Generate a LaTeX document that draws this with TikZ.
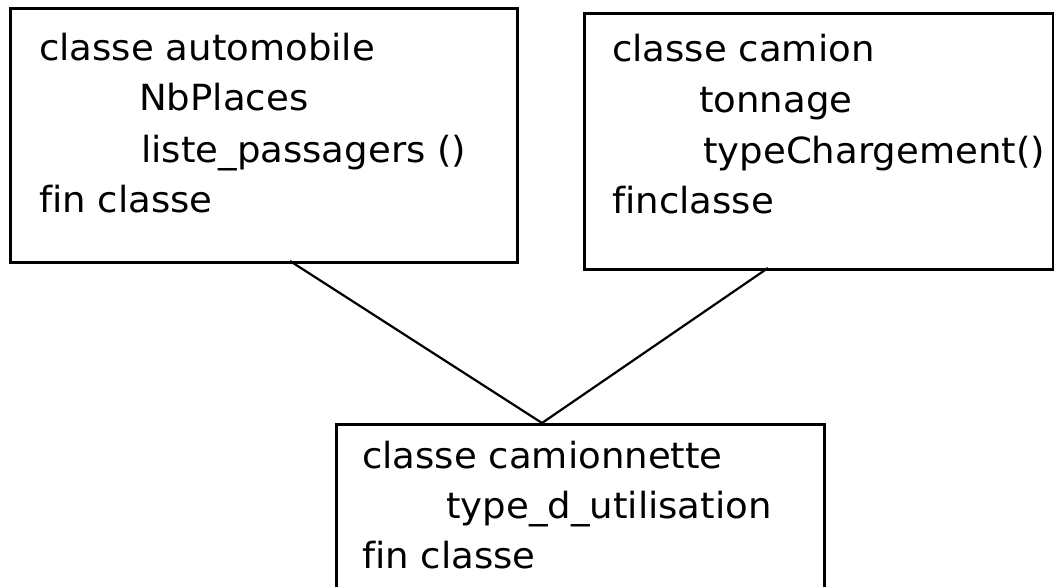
\documentclass[tikz,border=0pt]{standalone}
\usepackage{fontspec}
\setmainfont{DejaVu Sans}[FakeStretch=1.03,Ligatures=NoCommon]
\begin{document}
\begin{tikzpicture}[x=1pt,y=-1pt,
  box/.style={draw,line width=2.7pt,rectangle,inner sep=0pt,anchor=north west},
  txt/.style={anchor=base west,inner sep=0pt,font=\fontsize{36}{42}\selectfont},
  link/.style={line width=2.2pt}]
\useasboundingbox (0,0) rectangle (1054,586);
% boxes
\node[box,minimum width=507pt,minimum height=254pt] (b1) at (9,7) {};
\node[box,minimum width=469pt,minimum height=256pt] (b2) at (583,12) {};
\node[box,minimum width=488pt,minimum height=200pt] (b3) at (335,423) {};
% texts box 1
\node[txt] (t11) at (39,60) {classe automobile};
\node[txt] (t12) at (139,110) {NbPlaces};
\node[txt] (t13) at (141,162) {liste\_passagers ()};
\node[txt] (t14) at (39,212) {fin classe};
% texts box 2
\node[txt] (t21) at (612,62) {classe camion};
\node[txt] (t22) at (699,112) {tonnage};
\node[txt] (t23) at (703,163) {typeChargement()};
\node[txt] (t24) at (612,213) {finclasse};
% texts box 3
\node[txt] (t31) at (362,468) {classe camionnette};
\node[txt] (t32) at (446,518) {type\_d\_utilisation};
\node[txt] (t33) at (362,568) {fin classe};
% connectors
\coordinate (p1) at (290,261);
\coordinate (p2) at (768,268);
\coordinate (apex) at (542,423);
\draw[link] (p1) -- (apex);
\draw[link] (p2) -- (apex);
\end{tikzpicture}
\end{document}
